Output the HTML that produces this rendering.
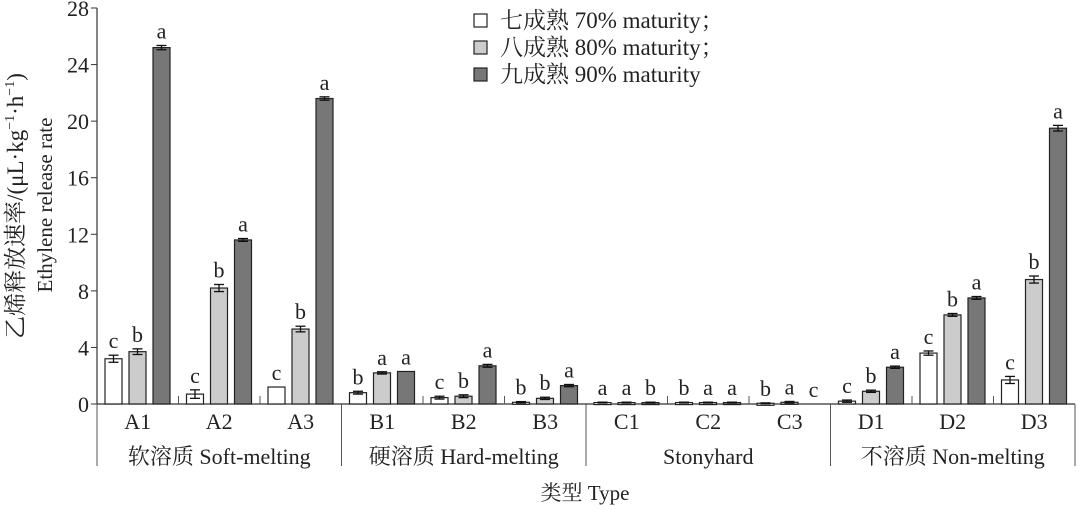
<!DOCTYPE html>
<html><head><meta charset="utf-8"><style>
body{margin:0;background:#fff}
svg text{font-family:"Liberation Serif","Noto Serif CJK SC",serif;fill:#222}
</style></head><body>
<svg id="chart" width="1080" height="505">
<g id="axes"></g><g id="bars"></g>
</svg>
<script>
const categories=["A1","A2","A3","B1","B2","B3","C1","C2","C3","D1","D2","D3"];
const s70=[3.2,0.7,1.2,0.8,0.45,0.12,0.1,0.1,0.05,0.2,3.6,1.7];
const s80=[3.7,8.2,5.3,2.2,0.55,0.4,0.1,0.1,0.12,0.9,6.3,8.8];
const s90=[25.2,11.6,21.6,2.3,2.7,1.3,0.1,0.1,0,2.6,7.5,19.5];
const e70=[0.25,0.3,0,0.1,0.1,0.05,0.03,0.03,0.03,0.08,0.15,0.25];
const e80=[0.2,0.25,0.2,0.08,0.1,0.08,0.03,0.03,0.06,0.08,0.1,0.25];
const e90=[0.15,0.1,0.12,0,0.1,0.08,0.03,0.03,0,0.08,0.1,0.2];
const l70=["c","c","c","b","c","b","a","b","b","c","c","c"];
const l80=["b","b","b","a","b","b","a","a","a","b","b","b"];
const l90=["a","a","a","a","a","a","b","a","c","a","a","a"];
const yTicks=[0,4,8,12,16,20,24,28];
const groups=["软溶质 Soft-melting","硬溶质 Hard-melting","Stonyhard","不溶质 Non-melting"];
const NS="http://www.w3.org/2000/svg";
const X0=97,GW=81.5,Y0=404,YT=8,YMAX=28;
const y=v=>Y0-(v/YMAX)*(Y0-YT);
const gx=i=>X0+i*GW;
function mk(t,a,p,txt){const e=document.createElementNS(NS,t);for(const k in a)e.setAttribute(k,a[k]);if(txt!=null)e.textContent=txt;p.appendChild(e);return e;}
const ax=document.getElementById('axes'),bg=document.getElementById('bars');
let e=mk('line',{x1:X0,y1:YT,x2:X0,y2:Y0,stroke:'#333','stroke-width':1.2},ax);

e=mk('line',{x1:X0,y1:Y0,x2:X0+12*GW,y2:Y0,stroke:'#333','stroke-width':1.2},ax);

yTicks.forEach(t=>{mk('line',{x1:X0-6,y1:y(t),x2:X0,y2:y(t),stroke:'#333'},ax);
 e=mk('text',{x:89,y:y(t)+8,'text-anchor':'end','font-size':22},ax,t);
 });
for(let i=0;i<=12;i++){const big=i%3==0;mk('line',{x1:gx(i),y1:big?Y0:Y0-8,x2:gx(i),y2:big?466:Y0,stroke:'#555'},ax);}
groups.forEach((g,i)=>{e=mk('text',{x:gx(i*3+1.5),y:464,'text-anchor':'middle','font-size':22},ax,g);
 });
e=mk('text',{x:585,y:500,'text-anchor':'middle','font-size':21},ax,'类型 Type');

e=mk('text',{transform:'translate(23,206) rotate(-90)','text-anchor':'middle','font-size':23},ax);
e.innerHTML='乙烯释放速率/(μL·kg<tspan dy="-9" font-size="14">−1</tspan><tspan dy="9">·h</tspan><tspan dy="-9" font-size="14">−1</tspan><tspan dy="9">)</tspan>';

e=mk('text',{transform:'translate(52,205) rotate(-90)','text-anchor':'middle','font-size':21},ax,'Ethylene release rate');

const series=[[s70,e70,l70,'#fff','70'],[s80,e80,l80,'#ccc','80'],[s90,e90,l90,'#777','90']];
categories.forEach((c,i)=>{
 e=mk('text',{x:gx(i)+GW/2,y:429,'text-anchor':'middle','font-size':22},ax,c);
 
 series.forEach((s,j)=>{
  const v=s[0][i],er=s[1][i],bx=gx(i)+8+j*24,w=17,cx=bx+w/2;
  if(v>0){const r=mk('rect',{x:bx,y:y(v),width:w,height:Math.max(Y0-y(v),2),fill:s[3],stroke:'#222','stroke-width':1.2},bg);
   }
  if(er>0){mk('line',{x1:cx,y1:y(v+er),x2:cx,y2:y(v-er),stroke:'#111','stroke-width':1.3},bg);
   mk('line',{x1:cx-5,y1:y(v+er),x2:cx+5,y2:y(v+er),stroke:'#111','stroke-width':1.3},bg);
   mk('line',{x1:cx-5,y1:y(v-er),x2:cx+5,y2:y(v-er),stroke:'#111','stroke-width':1.3},bg);}
  const t=mk('text',{x:cx,y:y(v+er)-7,'text-anchor':'middle','font-size':22},bg,s[2][i]);
  
 });
});
const leg=[['#fff','七成熟 70% maturity；'],['#ccc','八成熟 80% maturity；'],['#777','九成熟 90% maturity']];
leg.forEach((l,k)=>{const yy=14+k*27;
 const g=mk('g',{},ax);
 mk('rect',{x:474,y:yy,width:13,height:13,fill:l[0],stroke:'#222','stroke-width':1.2},g);
 mk('text',{x:500,y:yy+14,'font-size':23},g,l[1]);});
</script>
</body></html>
